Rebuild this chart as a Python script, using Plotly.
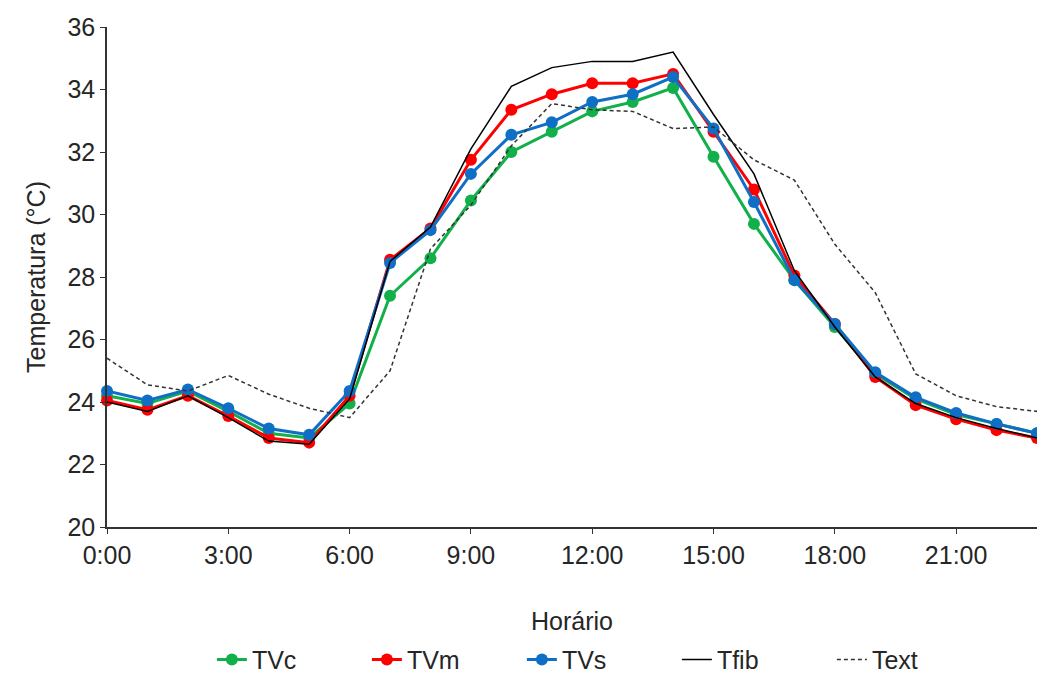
import plotly.graph_objects as go

hours = list(range(24))
tick_vals = [0, 3, 6, 9, 12, 15, 18, 21]
tick_text = ["0:00", "3:00", "6:00", "9:00", "12:00", "15:00", "18:00", "21:00"]

tvc = [24.2, 23.95, 24.35, 23.7, 23.0, 22.85, 23.95, 27.4, 28.6, 30.45, 32.0, 32.65,
       33.3, 33.6, 34.05, 31.85, 29.7, 27.9, 26.4, 24.9, 24.1, 23.6, 23.3, 23.0]
tvm = [24.05, 23.75, 24.2, 23.55, 22.85, 22.7, 24.2, 28.55, 29.55, 31.75, 33.35, 33.85,
       34.2, 34.2, 34.5, 32.65, 30.8, 28.05, 26.5, 24.8, 23.9, 23.45, 23.1, 22.85]
tvs = [24.35, 24.05, 24.4, 23.8, 23.15, 22.95, 24.35, 28.45, 29.5, 31.3, 32.55, 32.95,
       33.6, 33.85, 34.4, 32.75, 30.4, 27.9, 26.5, 24.95, 24.15, 23.65, 23.3, 23.0]
tfib = [24.0, 23.7, 24.2, 23.5, 22.75, 22.65, 24.1, 28.5, 29.6, 32.1, 34.1, 34.7,
        34.9, 34.9, 35.2, 33.2, 31.3, 28.2, 26.4, 24.8, 23.95, 23.5, 23.15, 22.85]
text_ = [25.4, 24.55, 24.35, 24.85, 24.25, 23.8, 23.5, 25.0, 28.9, 30.3, 32.2, 33.55,
         33.35, 33.3, 32.75, 32.8, 31.75, 31.1, 29.05, 27.5, 24.9, 24.2, 23.85, 23.7]

fig = go.Figure()
for name, ys, col in [("TVc", tvc, "#12B04A"), ("TVm", tvm, "#FF0000"), ("TVs", tvs, "#0F6FC6")]:
    fig.add_trace(go.Scatter(x=hours, y=ys, name=name, mode="lines+markers",
                             line=dict(color=col, width=3),
                             marker=dict(color=col, size=12), cliponaxis=False))
fig.add_trace(go.Scatter(x=hours, y=tfib, name="Tfib", mode="lines",
                         line=dict(color="#000000", width=1.5)))
fig.add_trace(go.Scatter(x=hours, y=text_, name="Text", mode="lines",
                         line=dict(color="#333333", width=1.5, dash="4px,3px")))

font = dict(family="Liberation Sans, Arial, sans-serif", color="#262626")
FS = 25
fig.update_layout(
    width=1037, height=676,
    margin=dict(l=107, r=0, t=27, b=149, autoexpand=False),
    paper_bgcolor="white", plot_bgcolor="white",
    font=dict(size=FS, **font),
    legend=dict(orientation="h", x=0.578, xanchor="center", xref="container",
                y=0.024, yanchor="middle", yref="container",
                font=dict(size=FS), entrywidth=110, entrywidthmode="pixels",
                tracegroupgap=0),
    xaxis=dict(range=[0, 23], tickvals=tick_vals, ticktext=tick_text, automargin=False,
               showline=True, linecolor="#333333", linewidth=1.5, ticks="outside",
               ticklen=5, tickcolor="#333333", showgrid=False, zeroline=False,
               title=dict(text="Horário", font=dict(size=FS), standoff=45),
               tickfont=dict(size=FS)),
    yaxis=dict(range=[20, 36], dtick=2, automargin=False,
               showline=True, linecolor="#333333", linewidth=1.5,
               ticks="outside", ticklen=5, tickcolor="#333333", showgrid=False,
               zeroline=False, title=dict(text="Temperatura (°C)", font=dict(size=FS), standoff=15),
               tickfont=dict(size=FS)),
)
fig.write_html("out.html")
